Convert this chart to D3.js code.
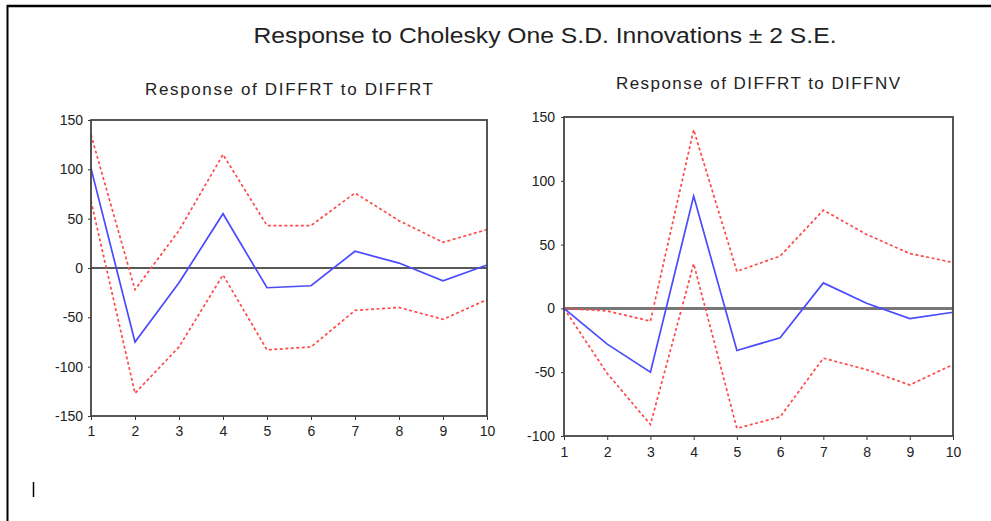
<!DOCTYPE html>
<html>
<head>
<meta charset="utf-8">
<script src="https://cdn.jsdelivr.net/npm/d3@7"></script>
<style>
  body { margin: 0; background: #fff; }
  text { font-family: "Liberation Sans", Arial, sans-serif; fill: #222; }
</style>
</head>
<body>
<div class="canvas"></div>
<script>
// data
const periods = [1, 2, 3, 4, 5, 6, 7, 8, 9, 10];

const rtRt = [101, -75, -15, 55, -20, -18, 17, 5, -13, 3];
const rtRtUpper = [135, -22, 38, 115, 43, 43, 76, 48, 26, 39];
const rtRtLower = [68, -127, -80, -7, -83, -80, -43, -40, -52, -32];

const rtNv = [0, -28, -50, 88, -33, -23, 20, 4, -8, -3];
const rtNvUpper = [0, -2, -10, 140, 29, 41, 77, 58, 43, 36];
const rtNvLower = [0, -51, -91, 35, -94, -85, -39, -48, -60, -44];

const leftTicks = [150, 100, 50, 0, -50, -100, -150];
const rightTicks = [150, 100, 50, 0, -50, -100];

const w = 991;
const h = 521;

const svg = d3.select(".canvas").append("svg").attr("width", w).attr("height", h);

// outer frame (only top and left edges visible)
svg.append("line").attr("x1", 7).attr("x2", w).attr("y1", 6).attr("y2", 6)
  .attr("stroke", "#000").attr("stroke-width", 2.5);
svg.append("line").attr("x1", 7.5).attr("x2", 7.5).attr("y1", 5).attr("y2", h)
  .attr("stroke", "#000").attr("stroke-width", 2);

// small stray bar at lower left
svg.append("line").attr("x1", 33.5).attr("x2", 33.5).attr("y1", 482).attr("y2", 497)
  .attr("stroke", "#000").attr("stroke-width", 1.5);

svg.append("text")
  .attr("x", 545).attr("y", 43)
  .attr("text-anchor", "middle")
  .attr("textLength", 583).attr("lengthAdjust", "spacingAndGlyphs")
  .style("font-size", "22px")
  .text("Response to Cholesky One S.D. Innovations \u00b1 2 S.E.");

function panel(opt) {
  const x = d3.scaleLinear().domain([1, 10]).range([opt.left, opt.right]);
  const y = d3.scaleLinear().domain(opt.yDomain).range([opt.bottom, opt.top]);
  const g = svg.append("g");

  g.append("text")
    .attr("x", opt.titleX).attr("y", opt.titleY)
    .attr("text-anchor", "middle")
    .attr("textLength", opt.titleLen).attr("lengthAdjust", "spacing")
    .style("font-size", "17px")
    .text(opt.title);

  // zero line
  g.append("line")
    .attr("x1", opt.left).attr("x2", opt.right)
    .attr("y1", y(0)).attr("y2", y(0))
    .attr("stroke", opt.zeroColor).attr("stroke-width", opt.zeroWidth);

  const line = d3.line().x((d, i) => x(periods[i])).y((d) => y(d));

  [opt.upper, opt.lower].forEach((s) => {
    g.append("path").attr("d", line(s))
      .attr("fill", "none").attr("stroke", "#ff4a4a")
      .attr("stroke-width", 1.7).attr("stroke-dasharray", "3,2.5");
  });
  g.append("path").attr("d", line(opt.resp))
    .attr("fill", "none").attr("stroke", "#4a4aff").attr("stroke-width", 1.7);

  // axes (plain hyphen minus like the original)
  const fmt = (d) => String(d);
  const yAxis = g.append("g")
    .attr("transform", `translate(${opt.left},0)`)
    .call(d3.axisLeft(y).tickValues(opt.ticks).tickFormat(fmt).tickSize(3).tickPadding(opt.yPad));
  const xAxis = g.append("g")
    .attr("transform", `translate(0,${opt.bottom})`)
    .call(d3.axisBottom(x).tickValues(periods).tickFormat(fmt).tickSize(4).tickPadding(opt.xPad));
  [yAxis, xAxis].forEach((a) => {
    a.select(".domain").remove();
    a.selectAll("line").attr("stroke", "#333");
    a.selectAll("text").style("font-size", "14px")
      .style("font-family", "'Liberation Sans', Arial, sans-serif").attr("fill", "#333");
  });

  // plot frame
  g.append("rect")
    .attr("x", opt.left).attr("y", opt.top)
    .attr("width", opt.right - opt.left).attr("height", opt.bottom - opt.top)
    .attr("fill", "none").attr("stroke", "#444").attr("stroke-width", 1.8);
}

panel({
  left: 91, right: 487, top: 120, bottom: 416,
  yDomain: [-150, 150], ticks: leftTicks, yPad: 5, xPad: 6,
  title: "Response of DIFFRT to DIFFRT", titleX: 289, titleY: 95, titleLen: 288,
  resp: rtRt, upper: rtRtUpper, lower: rtRtLower,
  zeroColor: "#222", zeroWidth: 1.5
});

panel({
  left: 564, right: 953, top: 117, bottom: 436,
  yDomain: [-100, 150], ticks: rightTicks, yPad: 6, xPad: 7,
  title: "Response of DIFFRT to DIFFNV", titleX: 758, titleY: 89, titleLen: 284,
  resp: rtNv, upper: rtNvUpper, lower: rtNvLower,
  zeroColor: "#777", zeroWidth: 3
});
</script>
</body>
</html>
